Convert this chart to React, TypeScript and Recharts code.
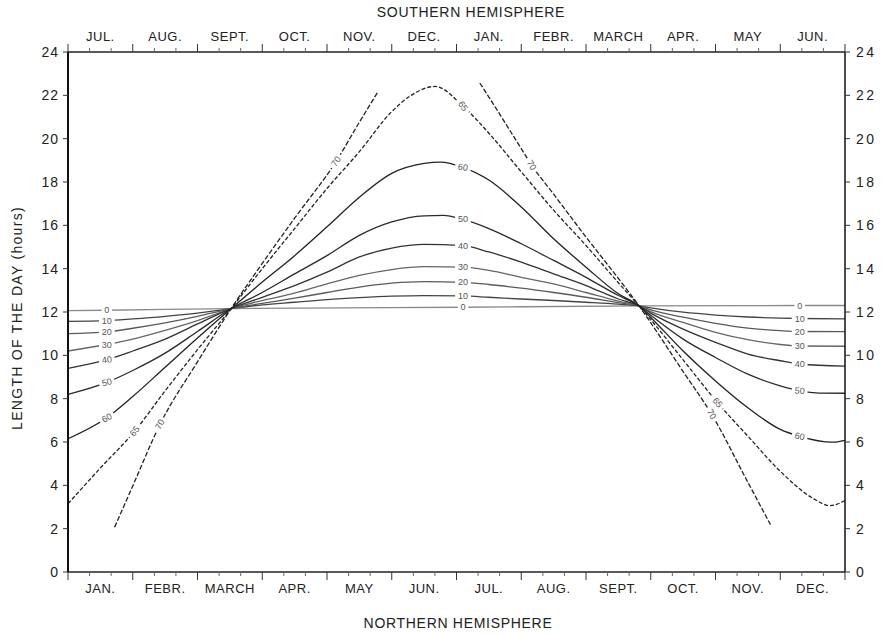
import React from 'react';
import { LineChart, Line, XAxis, YAxis, ReferenceDot } from 'recharts';

// x runs in months: 0 = 1 Jan (north) / 1 Jul (south), 12 = end of Dec / Jun
const northMonths = ['JAN.', 'FEBR.', 'MARCH', 'APR.', 'MAY', 'JUN.', 'JUL.', 'AUG.', 'SEPT.', 'OCT.', 'NOV.', 'DEC.'];
const southMonths = ['JUL.', 'AUG.', 'SEPT.', 'OCT.', 'NOV.', 'DEC.', 'JAN.', 'FEBR.', 'MARCH', 'APR.', 'MAY', 'JUN.'];
const hourTicks = [0, 2, 4, 6, 8, 10, 12, 14, 16, 18, 20, 22, 24];

// day length in hours, [month, hours], one list per latitude
const lat0: [number, number][] = [
  [0, 12.06], [0.6, 12.08], [2.52, 12.16], [6.1, 12.22], [8.82, 12.28], [11.3, 12.3], [12, 12.3],
];
const lat10: [number, number][] = [
  [0, 11.57], [0.6, 11.6], [1, 11.68], [1.5, 11.8], [2, 11.95], [2.52, 12.16], [3, 12.33], [3.5, 12.45],
  [4, 12.57], [4.5, 12.66], [5, 12.73], [5.5, 12.76], [6.1, 12.74], [6.5, 12.68], [7, 12.6], [7.5, 12.53],
  [8, 12.45], [8.5, 12.36], [8.82, 12.28], [9, 12.19], [9.5, 11.99], [10, 11.86], [10.5, 11.77], [11, 11.72],
  [11.3, 11.7], [12, 11.68],
];
const lat20: [number, number][] = [
  [0, 11.0], [0.6, 11.08], [1, 11.25], [1.5, 11.5], [2, 11.8], [2.52, 12.16], [3, 12.4], [3.5, 12.64],
  [4, 12.9], [4.5, 13.15], [5, 13.33], [5.5, 13.4], [6.1, 13.37], [6.5, 13.27], [7, 13.1], [7.5, 12.9],
  [8, 12.68], [8.5, 12.43], [8.82, 12.28], [9, 12.1], [9.5, 11.76], [10, 11.48], [10.5, 11.26], [11, 11.14],
  [11.3, 11.1], [12, 11.09],
];
const lat30: [number, number][] = [
  [0, 10.2], [0.6, 10.5], [1, 10.75], [1.5, 11.15], [2, 11.6], [2.52, 12.16], [3, 12.53], [3.5, 12.87],
  [4, 13.3], [4.5, 13.69], [5, 13.96], [5.5, 14.09], [6.1, 14.07], [6.5, 13.92], [7, 13.6], [7.5, 13.3],
  [8, 12.9], [8.5, 12.5], [8.82, 12.28], [9, 12.02], [9.5, 11.52], [10, 11.06], [10.5, 10.72], [11, 10.5],
  [11.3, 10.43], [12, 10.42],
];
const lat40: [number, number][] = [
  [0, 9.4], [0.6, 9.8], [1, 10.2], [1.5, 10.75], [2, 11.45], [2.52, 12.16], [3, 12.68], [3.5, 13.22],
  [4, 13.84], [4.5, 14.54], [5, 14.95], [5.5, 15.12], [6.1, 15.06], [6.5, 14.77], [7, 14.3], [7.5, 13.76],
  [8, 13.22], [8.5, 12.6], [8.82, 12.28], [9, 11.95], [9.5, 11.21], [10, 10.6], [10.5, 10.06], [11, 9.75],
  [11.3, 9.6], [12, 9.5],
];
const lat50: [number, number][] = [
  [0, 8.2], [0.6, 8.75], [1, 9.3], [1.5, 10.1], [2, 11.1], [2.52, 12.16], [3, 12.9], [3.5, 13.76],
  [4, 14.6], [4.5, 15.54], [5, 16.16], [5.5, 16.44], [5.8, 16.46], [6.1, 16.27], [6.5, 15.85], [7, 15.15],
  [7.5, 14.38], [8, 13.6], [8.5, 12.76], [8.82, 12.28], [9, 11.85], [9.5, 10.75], [10, 9.9], [10.5, 9.13],
  [11, 8.59], [11.3, 8.36], [11.6, 8.26], [12, 8.25],
];
const lat60: [number, number][] = [
  [0, 6.15], [0.6, 7.12], [1, 8.1], [1.5, 9.45], [2, 10.8], [2.52, 12.16], [3, 13.38], [3.5, 14.6],
  [4, 15.93], [4.5, 17.3], [5, 18.4], [5.5, 18.86], [5.75, 18.92], [6.1, 18.68], [6.5, 18.09], [7, 16.85],
  [7.5, 15.38], [8, 14.07], [8.5, 12.84], [8.82, 12.28], [9, 11.75], [9.5, 10.2], [10, 8.82], [10.5, 7.58],
  [11, 6.58], [11.3, 6.26], [11.8, 5.99], [12, 6.08],
];
const lat65: [number, number][] = [
  [0, 3.15], [0.5, 4.8], [1.03, 6.5], [1.5, 8.36], [2, 10.26], [2.52, 12.16], [3, 14.0], [3.5, 15.85],
  [4, 17.7], [4.5, 19.4], [5, 21.25], [5.3, 22.0], [5.67, 22.41], [6.1, 21.5], [6.5, 20.25], [7, 18.47],
  [7.5, 16.7], [8, 15.07], [8.5, 13.35], [8.82, 12.28], [9, 11.65], [9.5, 9.79], [10.03, 7.82], [10.5, 6.27],
  [11, 4.65], [11.5, 3.41], [11.77, 3.06], [12, 3.3],
];
// 70° leaves the chart near midsummer, so it is drawn in two pieces
const lat70a: [number, number][] = [
  [0.72, 2.07], [1, 3.97], [1.42, 6.81], [2, 9.7], [2.52, 12.16], [3, 14.24], [3.5, 16.33], [4.14, 18.95],
  [4.5, 20.76], [4.79, 22.18],
];
const lat70b: [number, number][] = [
  [6.36, 22.57], [6.5, 21.92], [7, 19.54], [7.16, 18.78], [7.5, 17.44], [8, 15.46], [8.5, 13.55],
  [8.82, 12.28], [9, 11.5], [9.5, 9.25], [9.94, 7.28], [10.5, 4.14], [10.85, 2.18],
];

// where the latitude numbers sit on each curve: [series, month]
const curveLabels: [string, number][] = [
  ['0', 0.6], ['10', 0.6], ['20', 0.6], ['30', 0.6], ['40', 0.6], ['50', 0.6], ['60', 0.6], ['65', 1.03], ['70a', 1.42],
  ['0', 6.1], ['10', 6.1], ['20', 6.1], ['30', 6.1], ['40', 6.1], ['50', 6.1], ['60', 6.1], ['65', 6.1], ['70a', 4.14], ['70b', 7.16],
  ['0', 11.3], ['10', 11.3], ['20', 11.3], ['30', 11.3], ['40', 11.3], ['50', 11.3], ['60', 11.3], ['65', 10.03], ['70b', 9.94],
];
const labelTilt: Record<string, number> = {
  '40@0.6': -6, '50@0.6': -14, '60@0.6': -27, '65@1.03': -52, '70a@1.42': -62,
  '60@6.1': 8, '65@6.1': 55, '70a@4.14': -56, '70b@7.16': 58,
  '50@11.3': 4, '60@11.3': 12, '65@10.03': 50, '70b@9.94': 58,
};

const series: { key: string; pts: [number, number][]; color: string; dash?: string }[] = [
  { key: '0', pts: lat0, color: '#8a8a8a' },
  { key: '10', pts: lat10, color: '#444' },
  { key: '20', pts: lat20, color: '#5a5a5a' },
  { key: '30', pts: lat30, color: '#666' },
  { key: '40', pts: lat40, color: '#333' },
  { key: '50', pts: lat50, color: '#2a2a2a' },
  { key: '60', pts: lat60, color: '#222' },
  { key: '65', pts: lat65, color: '#222', dash: '4 2' },
  { key: '70a', pts: lat70a, color: '#222', dash: '5 2' },
  { key: '70b', pts: lat70b, color: '#222', dash: '5 2' },
];

const toPts = (arr: [number, number][]) => arr.map(([m, h]) => ({ m, h }));

// boundaries every month, small marks every third of a month, names in between
const monthTicks: number[] = [];
for (let k = 0; k <= 72; k++) {
  if (k % 2 === 0 || k % 6 === 3) monthTicks.push(k / 6);
}

const FONT = '"Liberation Sans", Arial, sans-serif';

function MonthTick(props: any) {
  const { x, y, payload, names, dir } = props;
  const k = Math.round(payload.value * 6);
  if (k % 6 === 0) return <line x1={x} y1={y} x2={x} y2={y + dir * 8} stroke="#333" strokeWidth={1} />;
  if (k % 6 === 3) {
    return (
      <text x={x} y={y + dir * 16} textAnchor="middle" dominantBaseline="central"
        fontSize={13} letterSpacing={0.5} fill="#222" fontFamily={FONT}>
        {names[(k - 3) / 6]}
      </text>
    );
  }
  return <line x1={x} y1={y} x2={x} y2={y + dir * 4} stroke="#666" strokeWidth={1} />;
}

function CurveTag({ cx, cy, text, tilt }: any) {
  const w = text.length * 5.4 + 5;
  return (
    <g transform={`rotate(${tilt} ${cx} ${cy})`}>
      <rect x={cx - w / 2} y={cy - 5} width={w} height={10} fill="#fff" />
      <text x={cx} y={cy} textAnchor="middle" dominantBaseline="central" fontSize={9} fill="#555" fontFamily={FONT}>
        {text}
      </text>
    </g>
  );
}

export default function App() {
  return (
    <div style={{ position: 'absolute', left: 0, top: 0, width: 886, height: 635, background: '#fff', fontFamily: FONT }}>
      <LineChart width={886} height={635} margin={{ top: 0, right: 0, bottom: 0, left: 0 }}>
        <XAxis xAxisId="bottom" dataKey="m" type="number" domain={[0, 12]} ticks={monthTicks} interval={0}
          height={63} tickLine={false} tickSize={0} tickMargin={0}
          axisLine={{ stroke: '#222', strokeWidth: 1.5 }}
          tick={(p: any) => <MonthTick {...p} names={northMonths} dir={1} />} />
        <XAxis xAxisId="top" orientation="top" dataKey="m" type="number" domain={[0, 12]} ticks={monthTicks} interval={0}
          height={52} tickLine={false} tickSize={0} tickMargin={0}
          axisLine={{ stroke: '#222', strokeWidth: 1.5 }}
          tick={(p: any) => <MonthTick {...p} names={southMonths} dir={-1} />} />
        <YAxis yAxisId="left" type="number" domain={[0, 24]} ticks={hourTicks} interval={0} width={68}
          tickSize={5} tickMargin={4} axisLine={{ stroke: '#111', strokeWidth: 2 }}
          tickLine={{ stroke: '#333' }} tick={{ fontSize: 14, fill: '#222', letterSpacing: 1 }} />
        <YAxis yAxisId="right" orientation="right" type="number" domain={[0, 24]} ticks={hourTicks} interval={0} width={41}
          tickSize={5} tickMargin={6} axisLine={{ stroke: '#111', strokeWidth: 1.5 }}
          tickLine={{ stroke: '#333' }} tick={{ fontSize: 14, fill: '#222', letterSpacing: 2.5 }} />
        {/* the southern-month axis shares the same time scale; the equator curve keeps it populated */}
        <Line xAxisId="top" yAxisId="right" data={toPts(lat0)} dataKey="h" stroke="none" dot={false}
          activeDot={false} isAnimationActive={false} />
        {series.map((s) => (
          <Line key={s.key} xAxisId="bottom" yAxisId="left" data={toPts(s.pts)} dataKey="h" type="monotone"
            stroke={s.color} strokeWidth={1.3} strokeDasharray={s.dash} dot={false} activeDot={false}
            isAnimationActive={false} />
        ))}
        {curveLabels.map(([key, m]) => {
          const s = series.find((d) => d.key === key)!;
          const pt = s.pts.find(([pm]) => Math.abs(pm - m) < 1e-6)!;
          const tilt = labelTilt[`${key}@${m}`] ?? 0;
          const text = key.replace(/[ab]$/, '');
          return (
            <ReferenceDot key={`${key}@${m}`} xAxisId="bottom" yAxisId="left" x={m} y={pt[1]} r={0}
              ifOverflow="visible"
              shape={(p: any) => <CurveTag cx={p.cx} cy={p.cy} text={text} tilt={tilt} />} />
          );
        })}
      </LineChart>
      <div style={{ position: 'absolute', left: 371, top: 4, width: 200, textAlign: 'center', fontSize: 14, letterSpacing: 0.7, color: '#222' }}>
        SOUTHERN HEMISPHERE
      </div>
      <div style={{ position: 'absolute', left: 358, top: 615, width: 200, textAlign: 'center', fontSize: 14, letterSpacing: 0.7, color: '#222' }}>
        NORTHERN HEMISPHERE
      </div>
      <div style={{ position: 'absolute', left: 17, top: 318, width: 260, marginLeft: -130, marginTop: -9, textAlign: 'center',
        fontSize: 14, letterSpacing: 1.3, color: '#222', transform: 'rotate(-90deg)', lineHeight: '18px' }}>
        LENGTH OF THE DAY (hours)
      </div>
    </div>
  );
}
